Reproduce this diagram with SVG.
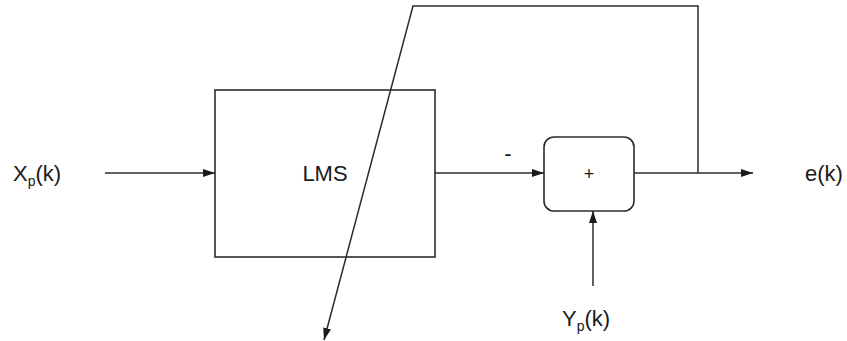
<svg xmlns="http://www.w3.org/2000/svg" width="847" height="341" viewBox="0 0 847 341">
<defs>
<style>
.ln{fill:none;stroke:#2b2b2b;stroke-width:1.5}
.bx{fill:#fff;stroke:#2b2b2b;stroke-width:1.6}
.t{font-family:"Liberation Sans",Arial,sans-serif;font-size:22px;fill:#1a1a1a}
.s{font-size:14px}
</style>
<marker id="ah" viewBox="0 0 12 8" refX="12" refY="4" markerWidth="12" markerHeight="8" markerUnits="userSpaceOnUse" orient="auto">
<path d="M0,0 L12,4 L0,8 Z" fill="#1a1a1a"/>
</marker>
</defs>
<rect width="847" height="341" fill="#fff"/>
<g id="lms">
<rect class="bx" x="215" y="90" width="220" height="167"/>
<text class="t" x="325" y="181" text-anchor="middle">LMS</text>
</g>
<g id="sum">
<rect class="bx" x="544" y="137" width="90" height="74" rx="10" ry="10"/>
<text class="t" x="589" y="180" text-anchor="middle" style="font-size:18px">+</text>
</g>
<g id="xp">
<text class="t" x="13" y="181">X<tspan class="s" dy="5">p</tspan><tspan dy="-5">(k)</tspan></text>
</g>
<g id="yp">
<text class="t" x="562" y="326">Y<tspan class="s" dy="5">p</tspan><tspan dy="-5">(k)</tspan></text>
</g>
<g id="ek">
<text class="t" x="805" y="181">e(k)</text>
</g>
<g id="connectors">
<line class="ln" x1="105" y1="173" x2="215" y2="173" marker-end="url(#ah)"/>
<line class="ln" x1="435" y1="173" x2="544" y2="173" marker-end="url(#ah)"/>
<text class="t" x="508" y="161" text-anchor="middle">-</text>
<line class="ln" x1="634" y1="173" x2="753" y2="173" marker-end="url(#ah)"/>
<line class="ln" x1="593" y1="286" x2="593" y2="211" marker-end="url(#ah)"/>
<path class="ln" d="M698,173 L698,6 L413,6 L324,340" marker-end="url(#ah)"/>
</g>
</svg>
